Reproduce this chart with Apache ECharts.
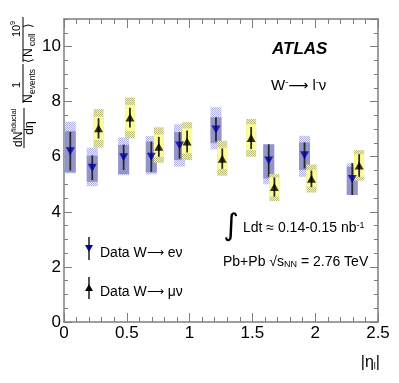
<!DOCTYPE html>
<html>
<head>
<meta charset="utf-8">
<script src="https://cdn.jsdelivr.net/npm/echarts@6/dist/echarts.min.js"></script>
<style>
  html, body { margin: 0; padding: 0; background: #fff; }
  #chart { width: 399px; height: 383px; }
</style>
</head>
<body>
<div id="chart"></div>
<script>
// electron channel (blue, down triangles)
const eEta = [0.05, 0.225, 0.475, 0.695, 0.92, 1.21, 1.63, 1.915, 2.295]
const eVal = [6.2, 5.6, 5.98, 6.0, 6.41, 6.99, 5.86, 6.05, 5.19]
const eStat = [0.7, 0.45, 0.46, 0.55, 0.48, 0.44, 0.59, 0.47, 0.58]
const eBoxLo = [5.43, 5.09, 5.37, 5.43, 5.88, 6.49, 5.21, 5.52, 4.61]
const eBoxHi = [6.93, 6.04, 6.43, 6.55, 6.89, 7.43, 6.45, 6.52, 5.64]
const eHatchLo = [5.40, 4.93, 5.33, 5.36, 5.64, 6.27, 5.0, 5.27, 4.61]
const eHatchHi = [7.27, 6.33, 6.70, 6.75, 7.18, 7.80, 6.45, 6.76, 5.76]

// muon channel (yellow, up triangles)
const mEta = [0.275, 0.525, 0.755, 0.98, 1.26, 1.49, 1.675, 1.97, 2.35]
const mVal = [7.03, 7.42, 6.36, 6.55, 5.93, 6.68, 4.9, 5.2, 5.68]
const mStat = [0.37, 0.36, 0.36, 0.4, 0.37, 0.4, 0.35, 0.3, 0.41]
const mBoxLo = [6.61, 6.93, 6.0, 6.12, 5.55, 6.24, 4.55, 4.91, 5.27]
const mBoxHi = [7.45, 7.88, 6.81, 7.03, 6.33, 7.18, 5.25, 5.52, 6.09]
const mHatchLo = [6.33, 6.67, 5.78, 5.88, 5.31, 6.0, 4.39, 4.70, 5.13]
const mHatchHi = [7.73, 8.15, 7.07, 7.25, 6.58, 7.37, 5.37, 5.72, 6.24]

const F = '"Liberation Sans", Arial, Helvetica, sans-serif'
const DJ = '"DejaVu Sans", sans-serif'
const frame = '#7d7d7d'

function checker(c1, c2) {
  const cv = document.createElement('canvas')
  cv.width = 2
  cv.height = 2
  const ctx = cv.getContext('2d')
  ctx.fillStyle = c2
  ctx.fillRect(0, 0, 2, 2)
  ctx.fillStyle = c1
  ctx.fillRect(0, 0, 1, 1)
  ctx.fillRect(1, 1, 1, 1)
  return { image: cv, repeat: 'repeat' }
}

function rows(eta, val, stat, lo, hi, hlo, hhi) {
  return eta.map((x, i) => [x, val[i], stat[i], lo[i], hi[i], hlo[i], hhi[i]])
}

// box + hatched box + stat bar
function boxRenderer(w, solid, hatch) {
  return function (params, api) {
    const x = api.value(0)
    const v = api.value(1)
    const c = api.coord([x, v])
    const sT = api.coord([x, v + api.value(2)])[1]
    const sB = api.coord([x, v - api.value(2)])[1]
    const bB = api.coord([x, api.value(3)])[1]
    const bT = api.coord([x, api.value(4)])[1]
    const hB = api.coord([x, api.value(5)])[1]
    const hT = api.coord([x, api.value(6)])[1]
    return {
      type: 'group',
      children: [
        { type: 'rect', shape: { x: c[0] - w / 2, y: hT, width: w, height: hB - hT }, style: { fill: hatch } },
        { type: 'rect', shape: { x: c[0] - w / 2, y: bT, width: w, height: bB - bT }, style: { fill: solid } },
        { type: 'line', shape: { x1: c[0], y1: sT, x2: c[0], y2: sB }, style: { stroke: '#2a2a2a', lineWidth: 1.8 } }
      ]
    }
  }
}

const chart = echarts.init(document.getElementById('chart'))

const xBase = {
  type: 'value',
  min: 0,
  max: 2.5,
  interval: 0.5,
  axisLine: { show: true, onZero: false, lineStyle: { color: frame, width: 1.5 } },
  axisTick: { show: true, inside: true, length: 9, lineStyle: { color: frame } },
  minorTick: { show: true, splitNumber: 5, length: 5, lineStyle: { color: frame } },
  splitLine: { show: false },
  minorSplitLine: { show: false }
}
function yAxisDef(pos, interval, len, labels, line) {
  return {
    type: 'value',
    position: pos,
    min: 0,
    max: 11,
    interval: interval,
    axisLine: { show: line, onZero: false, lineStyle: { color: frame, width: 1.5 } },
    axisTick: { show: true, inside: true, length: len, lineStyle: { color: frame } },
    axisLabel: { show: labels, showMaxLabel: false, color: '#000', fontSize: 17, fontFamily: F, margin: 3 },
    splitLine: { show: false }
  }
}

const sup = { fontSize: 9, fontFamily: F, verticalAlign: 'top', color: '#000' }
const sub = { fontSize: 9, fontFamily: F, verticalAlign: 'bottom', color: '#000' }
const arr = { fontSize: 14, fontFamily: DJ, color: '#000' }

const option = {
  animation: false,
  backgroundColor: '#fff',
  grid: { left: 64, right: 21, top: 19, bottom: 61 },
  xAxis: [
    Object.assign({}, xBase, { position: 'bottom', axisLabel: { color: '#000', fontSize: 17, fontFamily: F, margin: 3 } }),
    Object.assign({}, xBase, { position: 'top', axisLabel: { show: false } })
  ],
  yAxis: [
    yAxisDef('left', 2, 8, true, true),
    yAxisDef('left', 0.5, 4, false, false),
    yAxisDef('right', 2, 8, false, true),
    yAxisDef('right', 0.5, 4, false, false)
  ],
  series: [
    {
      type: 'custom',
      renderItem: boxRenderer(11, '#9494cd', checker('#b3b3e2', '#e9e9f8')),
      data: rows(eEta, eVal, eStat, eBoxLo, eBoxHi, eHatchLo, eHatchHi),
      z: 2
    },
    {
      type: 'custom',
      renderItem: boxRenderer(10, '#fcfc98', checker('#bdbd7c', '#efefc4')),
      data: rows(mEta, mVal, mStat, mBoxLo, mBoxHi, mHatchLo, mHatchHi),
      z: 3
    },
    {
      type: 'scatter',
      data: eEta.map((x, i) => [x, eVal[i]]),
      symbol: 'triangle',
      symbolRotate: 180,
      symbolSize: [9, 8],
      itemStyle: { color: '#00009c' },
      z: 5
    },
    {
      type: 'scatter',
      data: mEta.map((x, i) => [x, mVal[i]]),
      symbol: 'triangle',
      symbolSize: [9, 8],
      itemStyle: { color: '#000' },
      z: 5
    }
  ],
  graphic: [
    // y axis title, rotated
    {
      type: 'group',
      x: 0,
      y: 183,
      rotation: Math.PI / 2,
      children: [
        { type: 'text', x: 36, y: 19, style: { text: 'dN', font: '12px ' + F, fill: '#000', verticalAlign: 'middle' } },
        { type: 'text', x: 51, y: 14, style: { text: 'fiducial', font: '7.5px ' + F, fill: '#000', verticalAlign: 'middle' } },
        { type: 'line', shape: { x1: 35, y1: 24, x2: 75, y2: 24 }, style: { stroke: '#000', lineWidth: 1 } },
        { type: 'text', x: 55, y: 30, style: { text: 'dη', font: '12px ' + F, fill: '#000', align: 'center', verticalAlign: 'middle' } },
        { type: 'text', x: 98, y: 17, style: { text: '1', font: '11px ' + F, fill: '#000', align: 'center', verticalAlign: 'middle' } },
        { type: 'line', shape: { x1: 80, y1: 23, x2: 119, y2: 23 }, style: { stroke: '#000', lineWidth: 1 } },
        { type: 'text', x: 80, y: 29, style: { text: 'N', font: '12px ' + F, fill: '#000', verticalAlign: 'middle' } },
        { type: 'text', x: 89, y: 33, style: { text: 'events', font: '8.5px ' + F, fill: '#000', verticalAlign: 'middle' } },
        { type: 'text', x: 146, y: 17, style: { text: '10', font: '11px ' + F, fill: '#000', verticalAlign: 'middle' } },
        { type: 'text', x: 158, y: 13, style: { text: '9', font: '7.5px ' + F, fill: '#000', verticalAlign: 'middle' } },
        { type: 'line', shape: { x1: 121, y1: 23, x2: 166, y2: 23 }, style: { stroke: '#000', lineWidth: 1 } },
        { type: 'text', x: 120, y: 29, style: { text: '⟨', font: '12px ' + DJ, fill: '#000', verticalAlign: 'middle' } },
        { type: 'text', x: 126, y: 29, style: { text: 'N', font: '12px ' + F, fill: '#000', verticalAlign: 'middle' } },
        { type: 'text', x: 137, y: 33, style: { text: 'coll', font: '8.5px ' + F, fill: '#000', verticalAlign: 'middle' } },
        { type: 'text', x: 155, y: 29, style: { text: '⟩', font: '12px ' + DJ, fill: '#000', verticalAlign: 'middle' } }
      ]
    },
    {
      type: 'text', x: 272, y: 49,
      style: { text: 'ATLAS', font: 'italic bold 17px ' + F, fill: '#000', verticalAlign: 'middle' }
    },
    {
      type: 'text', x: 271, y: 86,
      style: {
        text: 'W{s|-}{a|⟶} l{s|-}ν',
        font: '15px ' + F, fill: '#000', verticalAlign: 'middle',
        rich: { s: sup, a: arr }
      }
    },
    {
      type: 'text', x: 231, y: 227,
      style: { text: '∫', font: '30px ' + DJ, fill: '#000', align: 'center', verticalAlign: 'middle' }
    },
    {
      type: 'text', x: 243, y: 228,
      style: {
        text: 'Ldt ≈ 0.14-0.15 nb{s|-1}',
        font: '14px ' + F, fill: '#000', verticalAlign: 'middle',
        rich: { s: sup }
      }
    },
    {
      type: 'text', x: 223, y: 262,
      style: {
        text: 'Pb+Pb √s{n|NN} = 2.76 TeV',
        font: '14px ' + F, fill: '#000', verticalAlign: 'middle',
        rich: { n: sub }
      }
    },
    {
      type: 'text', x: 380, y: 363,
      style: {
        text: '|η{n|l}|',
        font: '16px ' + F, fill: '#000', align: 'right', verticalAlign: 'middle',
        rich: { n: sub }
      }
    },
    // legend
    { type: 'line', shape: { x1: 89, y1: 237, x2: 89, y2: 260 }, style: { stroke: '#2a2a2a', lineWidth: 1.6 } },
    { type: 'polygon', shape: { points: [[85, 245], [93, 245], [89, 252]] }, style: { fill: '#00009c' } },
    {
      type: 'text', x: 100, y: 253,
      style: { text: 'Data W{a|⟶} eν', font: '14px ' + F, fill: '#000', verticalAlign: 'middle', rich: { a: { fontSize: 12, fontFamily: DJ } } }
    },
    { type: 'line', shape: { x1: 89, y1: 277, x2: 89, y2: 299 }, style: { stroke: '#2a2a2a', lineWidth: 1.6 } },
    { type: 'polygon', shape: { points: [[85, 291], [93, 291], [89, 284]] }, style: { fill: '#000' } },
    {
      type: 'text', x: 100, y: 292,
      style: { text: 'Data W{a|⟶} μν', font: '14px ' + F, fill: '#000', verticalAlign: 'middle', rich: { a: { fontSize: 12, fontFamily: DJ } } }
    }
  ]
}

chart.setOption(option)
</script>
</body>
</html>
